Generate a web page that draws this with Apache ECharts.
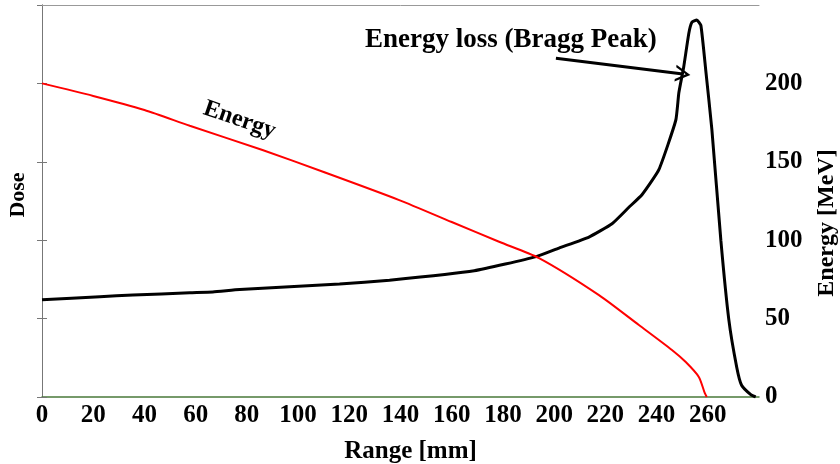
<!DOCTYPE html>
<html>
<head>
<meta charset="utf-8">
<script src="https://cdn.jsdelivr.net/npm/echarts@6/dist/echarts.min.js"></script>
<style>html,body{margin:0;padding:0;background:#fff;}#chart{width:840px;height:464px;}</style>
</head>
<body>
<div id="chart"></div>
<script>
// Dose (Bragg curve), arbitrary units on left axis
const rangeDose = [0,22.6,35.5,57.7,66.7,77.2,116.2,135.7,168.8,193.0,201.9,213.6,222.6,229.2,234.3,240.9,247.5,248.7,250.6,252.6,253.8,255.7,257.3,259.2,261.6,265.1,268.2,271.3,273.2,276.8,278.7];
const dose = [1.24,1.28,1.30,1.33,1.34,1.37,1.44,1.49,1.61,1.79,1.90,2.04,2.21,2.42,2.58,2.90,3.53,3.88,4.21,4.64,4.78,4.81,4.74,4.17,3.41,2.00,0.99,0.38,0.15,0.03,0];
// Energy [MeV] on right axis
const rangeEnergy = [0,20,40,57.7,86.1,110,139.5,160,178.5,194.1,217.5,233.1,246,251.4,256.5,258.8,259.6];
const energy = [200,192,183,173,157.5,143.5,125.6,111.6,99,88.6,65,45.9,30,22.3,12.8,2.6,0];
// annotations
const arrowStart = [200.7, 4.32];
const arrowEnd = [250.3, 4.12];
const energyLabelAt = [77.2, 176.7];

const FONT = 'Liberation Serif';
const chart = echarts.init(document.getElementById('chart'));
const chevron = 'path://M0,0 L10,16 L7,16 L0,5 L-7,16 L-10,16 Z';

chart.setOption({
  animation: false,
  backgroundColor: '#fff',
  title: {
    text: 'Energy loss (Bragg Peak)',
    left: 360, top: 22,
    textStyle: {fontFamily: FONT, fontWeight: 'bold', fontSize: 27, color: '#000'}
  },
  grid: {left: 42, right: 81, top: 5, bottom: 67, containLabel: false, outerBoundsMode: 'none'},
  xAxis: [{
    type: 'value', min: 0, max: 280, interval: 20,
    name: 'Range [mm]', nameLocation: 'middle', nameGap: 42,
    nameTextStyle: {fontFamily: FONT, fontWeight: 'bold', fontSize: 25, color: '#000', padding: [0,0,0,20]},
    axisLine: {show: true, lineStyle: {color: '#4a7a3a', width: 1.5}},
    axisTick: {show: false},
    splitLine: {show: false},
    axisLabel: {showMaxLabel: false, margin: 6, fontFamily: FONT, fontWeight: 'bold', fontSize: 25, color: '#000'}
  }, {
    type: 'value', position: 'top', min: 0, max: 280,
    axisLine: {show: true, onZero: false, lineStyle: {color: '#999', width: 1}},
    axisTick: {show: false}, axisLabel: {show: false}, splitLine: {show: false}
  }],
  yAxis: [{
    type: 'value', min: 0, max: 5, interval: 1, position: 'left',
    name: 'Dose', nameLocation: 'middle', nameGap: 13,
    nameTextStyle: {fontFamily: FONT, fontWeight: 'bold', fontSize: 22, color: '#000', padding: [0,0,0,12]},
    axisLine: {show: true, lineStyle: {color: '#777', width: 1}},
    axisTick: {show: true, length: 5, lineStyle: {color: '#777'}},
    axisLabel: {show: false}, splitLine: {show: false}
  }, {
    type: 'value', min: 0, max: 250, interval: 50, position: 'right',
    name: 'Energy [MeV]', nameLocation: 'middle', nameGap: 56,
    nameTextStyle: {fontFamily: FONT, fontWeight: 'bold', fontSize: 24, color: '#000', padding: [0,44,0,0]},
    axisLine: {show: true, lineStyle: {color: '#777', width: 1}},
    axisTick: {show: true, length: 5, lineStyle: {color: '#777'}},
    axisLabel: {showMaxLabel: false, margin: 6, fontFamily: FONT, fontWeight: 'bold', fontSize: 25, color: '#000'},
    splitLine: {show: false}
  }],
  series: [{
    name: 'Dose', type: 'line', xAxisIndex: 0, yAxisIndex: 0,
    data: rangeDose.map((x, i) => [x, dose[i]]),
    showSymbol: false, smooth: 0.15,
    lineStyle: {color: '#000', width: 3},
    z: 3,
    markLine: {
      silent: true, animation: false,
      symbol: ['none', chevron], symbolSize: [17, 15],
      label: {show: false},
      lineStyle: {color: '#000', width: 3, type: 'solid'},
      data: [[{coord: arrowStart}, {coord: arrowEnd}]]
    }
  }, {
    name: 'Energy', type: 'line', xAxisIndex: 0, yAxisIndex: 1,
    data: rangeEnergy.map((x, i) => [x, energy[i]]),
    showSymbol: false, smooth: 0.25,
    lineStyle: {color: '#ff0000', width: 2},
    z: 4,
    markPoint: {
      silent: true, symbol: 'circle', symbolSize: 0,
      label: {show: true, position: 'inside', formatter: 'Energy', rotate: -19,
        fontFamily: FONT, fontWeight: 'bold', fontSize: 24, color: '#000'},
      data: [{coord: energyLabelAt}]
    }
  }]
});
</script>
</body>
</html>
